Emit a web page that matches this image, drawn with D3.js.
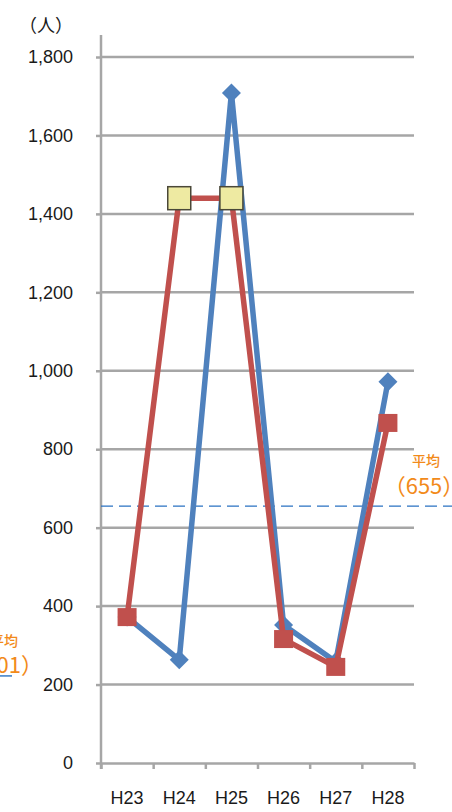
<!DOCTYPE html>
<html>
<head>
<meta charset="utf-8">
<script src="https://cdn.jsdelivr.net/npm/d3@7"></script>
<style>
  body { margin: 0; background: #fff; }
  svg { display: block; }
  .tick text { font-family: "Liberation Sans", Arial, sans-serif; font-size: 18px; fill: #1a1a1a; }
  .jp { font-family: "Noto Sans CJK JP", sans-serif; }
</style>
</head>
<body>
<div class="chart"></div>
<script>
// data
const categories = ['H23', 'H24', 'H25', 'H26', 'H27', 'H28'];
const blueValues = [372, 263, 1708, 352, 258, 972];
const redValues = [372, 1440, 1440, 316, 245, 867];
const redHighlighted = ['H24', 'H25']; // yellow boxes
const yTicks = [0, 200, 400, 600, 800, 1000, 1200, 1400, 1600, 1800];
const unitLabel = '（人）';
const avgValue = 655;
const avgText = '（655）';
const avgLabel = '平均';
const leftAvgValue = 222; // cut-off neighbour chart
const leftAvgText = '（201）';

const width = 452, height = 812;
const plot = { left: 101, right: 414, top: 57, bottom: 763 };

const svg = d3.select('.chart').append('svg')
    .attr('width', width)
    .attr('height', height);

const y = d3.scaleLinear().domain([0, 1800]).range([plot.bottom, plot.top]);
const x = d3.scaleBand().domain(categories).range([plot.left, plot.right]);
const xEdge = d3.scaleLinear().domain([0, categories.length]).range([plot.left, plot.right]);

const grey = '#a6a6a6';

// gridlines
svg.append('g')
    .selectAll('line')
    .data(yTicks.filter(d => d > 0))
    .join('line')
    .attr('x1', plot.left).attr('x2', plot.right)
    .attr('y1', d => y(d)).attr('y2', d => y(d))
    .attr('stroke', grey).attr('stroke-width', 2.5);

// y axis
const yAxis = svg.append('g')
    .attr('transform', `translate(${plot.left},0)`)
    .call(d3.axisLeft(y).tickValues(yTicks).tickFormat(d3.format(',')).tickSizeInner(5).tickSizeOuter(0).tickPadding(23));
yAxis.select('.domain').remove();
yAxis.selectAll('.tick line').attr('stroke', grey).attr('stroke-width', 2.5);
svg.append('line')
    .attr('x1', plot.left).attr('x2', plot.left)
    .attr('y1', 35).attr('y2', plot.bottom + 6)
    .attr('stroke', grey).attr('stroke-width', 2.5);

// x axis (ticks at band edges)
const xAxis = svg.append('g')
    .attr('transform', `translate(0,${plot.bottom})`)
    .call(d3.axisBottom(xEdge).tickValues(d3.range(categories.length + 1)).tickFormat('').tickSizeInner(6).tickSizeOuter(0));
xAxis.select('.domain').attr('stroke', grey).attr('stroke-width', 2.5);
xAxis.selectAll('.tick line').attr('stroke', grey).attr('stroke-width', 2.5);

svg.append('g')
    .selectAll('text')
    .data(categories)
    .join('text')
    .attr('x', d => x(d) + x.bandwidth() / 2)
    .attr('y', 804)
    .attr('text-anchor', 'middle')
    .style('font-family', '"Liberation Sans", Arial, sans-serif')
    .style('font-size', '18px')
    .attr('fill', '#1a1a1a')
    .text(d => d);

// unit
svg.append('text')
    .attr('class', 'jp')
    .attr('x', 19).attr('y', 32)
    .style('font-size', '18px')
    .attr('fill', '#1a1a1a')
    .text(unitLabel);

// average lines
const avgColor = '#2a72c2';
const orange = '#f28a1a';
svg.append('line')
    .attr('x1', plot.left).attr('x2', width)
    .attr('y1', y(avgValue)).attr('y2', y(avgValue))
    .attr('stroke', avgColor).attr('stroke-width', 1.4)
    .attr('stroke-dasharray', '12,6');
svg.append('text')
    .attr('class', 'jp')
    .attr('x', 426).attr('y', 466)
    .attr('text-anchor', 'middle')
    .style('font-size', '14px')
    .style('font-weight', 500)
    .attr('fill', orange)
    .text(avgLabel);
svg.append('text')
    .attr('class', 'jp')
    .attr('x', 424).attr('y', 494)
    .attr('text-anchor', 'middle')
    .style('font-size', '22px')
    .attr('fill', orange)
    .text(avgText);

svg.append('line')
    .attr('x1', 0).attr('x2', 12)
    .attr('y1', y(leftAvgValue)).attr('y2', y(leftAvgValue))
    .attr('stroke', avgColor).attr('stroke-width', 1.4);
svg.append('text')
    .attr('class', 'jp')
    .attr('x', 18).attr('y', 646)
    .attr('text-anchor', 'end')
    .style('font-size', '14px')
    .style('font-weight', 500)
    .attr('fill', orange)
    .text(avgLabel);
svg.append('text')
    .attr('class', 'jp')
    .attr('x', 43).attr('y', 673)
    .attr('text-anchor', 'end')
    .style('font-size', '22px')
    .attr('fill', orange)
    .text(leftAvgText);

// series
const cx = d => x(d) + x.bandwidth() / 2;
const line = d3.line().x(d => cx(d.cat)).y(d => y(d.value));
const blue = categories.map((cat, i) => ({ cat, value: blueValues[i] }));
const red = categories.map((cat, i) => ({ cat, value: redValues[i] }));

svg.append('path')
    .datum(blue)
    .attr('d', line)
    .attr('fill', 'none')
    .attr('stroke', '#4f81bd')
    .attr('stroke-width', 5.5)
    .attr('stroke-linejoin', 'round');

svg.append('g')
    .selectAll('path')
    .data(blue)
    .join('path')
    .attr('transform', d => `translate(${cx(d.cat)},${y(d.value)})`)
    .attr('d', 'M0,-9.5L9.5,0L0,9.5L-9.5,0Z')
    .attr('fill', '#4f81bd');

svg.append('path')
    .datum(red)
    .attr('d', line)
    .attr('fill', 'none')
    .attr('stroke', '#c0504d')
    .attr('stroke-width', 5.5)
    .attr('stroke-linejoin', 'round');

svg.append('g')
    .selectAll('rect')
    .data(red.filter(d => !redHighlighted.includes(d.cat)))
    .join('rect')
    .attr('x', d => cx(d.cat) - 9.5)
    .attr('y', d => y(d.value) - 9)
    .attr('width', 19).attr('height', 18)
    .attr('fill', '#c0504d');

svg.append('g')
    .selectAll('rect')
    .data(red.filter(d => redHighlighted.includes(d.cat)))
    .join('rect')
    .attr('x', d => cx(d.cat) - 11.5)
    .attr('y', d => y(d.value) - 11.5)
    .attr('width', 23).attr('height', 23)
    .attr('fill', '#eeeaa2')
    .attr('stroke', '#4a4838')
    .attr('stroke-width', 1.5);
</script>
</body>
</html>
